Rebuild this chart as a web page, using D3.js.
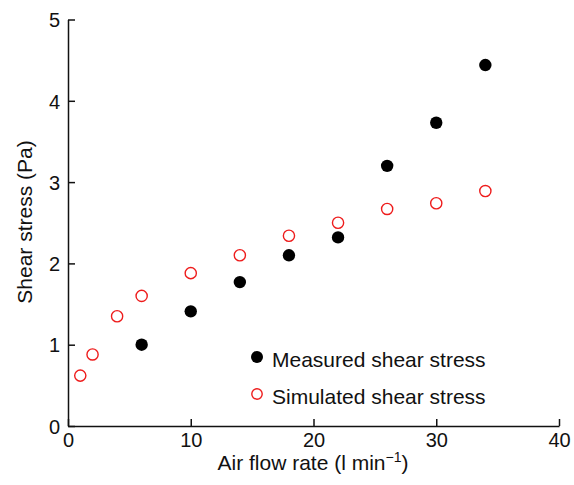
<!DOCTYPE html>
<html>
<head>
<meta charset="utf-8">
<script src="https://cdn.jsdelivr.net/npm/d3@7"></script>
<style>
  body { margin: 0; background: #fff; }
  text { font-family: "Liberation Sans", Arial, sans-serif; fill: #111; }
</style>
</head>
<body>
<svg id="chart" width="574" height="485"></svg>
<script>
'use strict';

// values
var measuredFlow = [6, 10, 14, 18, 22, 26, 30, 34];
var measuredStress = [1.0, 1.41, 1.77, 2.10, 2.32, 3.20, 3.73, 4.44];
var simulatedFlow = [1, 2, 4, 6, 10, 14, 18, 22, 26, 30, 34];
var simulatedStress = [0.62, 0.88, 1.35, 1.60, 1.88, 2.10, 2.34, 2.50, 2.67, 2.74, 2.89];
var xTicks = [0, 10, 20, 30, 40];
var yTicks = [0, 1, 2, 3, 4, 5];
var legendLabels = ["Measured shear stress", "Simulated shear stress"];

var svg = d3.select("#chart");
var x = d3.scaleLinear().domain([0, 40]).range([68, 559]);
var y = d3.scaleLinear().domain([0, 5]).range([426, 19.5]);

// axes, ticks pointing inward
var xAxis = svg.append("g")
  .attr("transform", "translate(0,426)")
  .call(d3.axisTop(x).tickValues(xTicks).tickSize(7).tickSizeOuter(0).tickFormat(d3.format("d")));
xAxis.selectAll("text")
  .attr("y", 0).attr("dy", "21px")
  .attr("text-anchor", "middle")
  .attr("font-size", "20px");

var yAxis = svg.append("g")
  .attr("transform", "translate(68,0)")
  .call(d3.axisRight(y).tickValues(yTicks).tickSize(7).tickSizeOuter(0).tickFormat(d3.format("d")));
yAxis.selectAll("text")
  .attr("x", -8).attr("dy", "0.36em")
  .attr("text-anchor", "end")
  .attr("font-size", "20px");

svg.selectAll(".domain, .tick line").attr("stroke", "#111").attr("stroke-width", 1.5);

// axis titles
var xt = svg.append("text")
  .attr("x", 313).attr("y", 470)
  .attr("text-anchor", "middle").attr("font-size", "21px")
  .text("Air flow rate (l min");
xt.append("tspan").attr("dy", -8).attr("font-size", "14px").text("\u22121");
xt.append("tspan").attr("dy", 8).text(")");

svg.append("text")
  .attr("transform", "translate(32,222) rotate(-90)")
  .attr("text-anchor", "middle").attr("font-size", "21px")
  .text("Shear stress (Pa)");

// points
svg.append("g").selectAll("circle")
  .data(simulatedFlow)
  .enter().append("circle")
  .attr("cx", function(d) { return x(d); })
  .attr("cy", function(d, i) { return y(simulatedStress[i]); })
  .attr("r", 5.6)
  .attr("fill", "none")
  .attr("stroke", "#ee1c1c")
  .attr("stroke-width", 1.4);

svg.append("g").selectAll("circle")
  .data(measuredFlow)
  .enter().append("circle")
  .attr("cx", function(d) { return x(d); })
  .attr("cy", function(d, i) { return y(measuredStress[i]); })
  .attr("r", 6.2)
  .attr("fill", "#000");

// legend
var legend = svg.append("g").selectAll("g")
  .data(legendLabels)
  .enter().append("g")
  .attr("transform", function(d, i) { return "translate(257," + (357 + i * 37) + ")"; });
legend.append("circle")
  .attr("r", function(d, i) { return i === 0 ? 6 : 5.2; })
  .attr("fill", function(d, i) { return i === 0 ? "#000" : "none"; })
  .attr("stroke", function(d, i) { return i === 0 ? "none" : "#ee1c1c"; })
  .attr("stroke-width", 1.4);
legend.append("text")
  .attr("x", 15).attr("y", 10)
  .attr("font-size", "21px")
  .text(function(d) { return d; });
</script>
</body>
</html>
